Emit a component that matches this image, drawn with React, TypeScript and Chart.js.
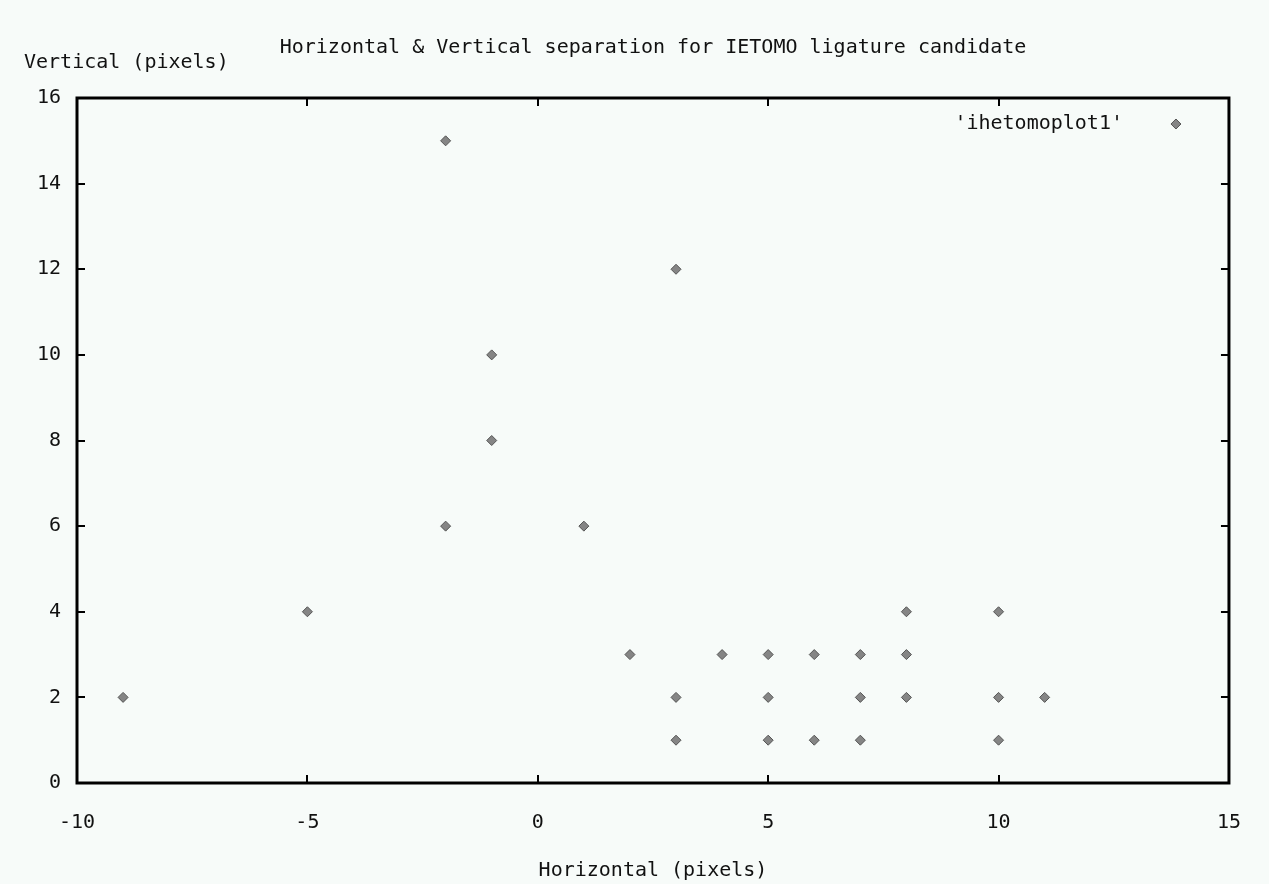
import React, { useEffect, useRef } from "react";
import { Chart, registerables } from "chart.js";

Chart.register(...registerables);

const seriesLabel = "'ihetomoplot1'";
const horizontal = [-9, -5, -2, -2, -1, -1, 1, 2, 3, 3, 3, 4, 5, 5, 5, 6, 6, 7, 7, 7, 8, 8, 8, 10, 10, 10, 11];
const vertical = [2, 4, 15, 6, 10, 8, 6, 3, 12, 2, 1, 3, 3, 2, 1, 3, 1, 3, 2, 1, 4, 3, 2, 4, 2, 1, 2];
const xTicks = [-10, -5, 0, 5, 10, 15];
const yTicks = [0, 2, 4, 6, 8, 10, 12, 14, 16];
const titleText = "Horizontal & Vertical separation for IETOMO ligature candidate";
const xTitle = "Horizontal (pixels)";
const yTitle = "Vertical (pixels)";

const FONT = "DejaVu Sans Mono";
const BG = "#f7fbf9";

const gnuplotPlugin = {
  id: "gnuplotFrame",
  beforeDraw(chart: any) {
    const { ctx, width, height } = chart;
    ctx.save();
    ctx.fillStyle = BG;
    ctx.fillRect(0, 0, width, height);
    ctx.restore();
  },
  afterDatasetsDraw(chart: any) {
    const { ctx, chartArea } = chart;
    const { left, right, top, bottom } = chartArea;
    const xs = chart.scales.x;
    const ys = chart.scales.y;
    ctx.save();
    ctx.strokeStyle = "#000";
    ctx.lineWidth = 2;
    const tl = 8;
    ctx.beginPath();
    for (const v of xTicks) {
      const px = Math.round(xs.getPixelForValue(v));
      ctx.moveTo(px, bottom);
      ctx.lineTo(px, bottom - tl);
      ctx.moveTo(px, top);
      ctx.lineTo(px, top + tl);
    }
    for (const v of yTicks) {
      const py = Math.round(ys.getPixelForValue(v));
      ctx.moveTo(left, py);
      ctx.lineTo(left + tl, py);
      ctx.moveTo(right, py);
      ctx.lineTo(right - tl, py);
    }
    ctx.stroke();
    ctx.lineWidth = 3;
    ctx.strokeRect(left, top, right - left, bottom - top);

    ctx.fillStyle = "#111";
    ctx.font = `20px "${FONT}"`;
    ctx.textBaseline = "middle";
    ctx.textAlign = "center";
    ctx.fillText(titleText, (left + right) / 2, top - 50);
    ctx.fillText(xTitle, (left + right) / 2, bottom + 88);
    ctx.textAlign = "left";
    ctx.fillText(yTitle, 24, top - 35);

    // legend
    const ly = top + 26;
    ctx.textAlign = "right";
    ctx.fillText(chart.data.datasets[0].label, right - 106, ly);
    const mx = right - 53;
    const r = 5;
    ctx.beginPath();
    ctx.moveTo(mx, ly - r);
    ctx.lineTo(mx + r, ly);
    ctx.lineTo(mx, ly + r);
    ctx.lineTo(mx - r, ly);
    ctx.closePath();
    ctx.fillStyle = "#858585";
    ctx.fill();
    ctx.strokeStyle = "#555";
    ctx.lineWidth = 1;
    ctx.stroke();
    ctx.restore();
  },
};

export default function App() {
  const ref = useRef<HTMLCanvasElement | null>(null);
  useEffect(() => {
    document.body.style.margin = "0";
    const canvas = ref.current;
    if (!canvas) return;
    const chart = new Chart(canvas, {
      type: "scatter",
      data: {
        datasets: [
          {
            label: seriesLabel,
            data: horizontal.map((x, i) => ({ x, y: vertical[i] })),
            pointStyle: "rectRot",
            pointRadius: 5,
            pointBackgroundColor: "#858585",
            pointBorderColor: "#555",
            pointBorderWidth: 1,
          },
        ],
      },
      options: {
        animation: false,
        responsive: false,
        devicePixelRatio: 1,
        layout: { padding: { left: 0, right: 40, top: 98, bottom: 0 } },
        plugins: {
          legend: { display: false },
          tooltip: { enabled: false },
          title: { display: false },
        },
        scales: {
          x: {
            type: "linear",
            min: -10,
            max: 15,
            afterFit: (s: any) => {
              s.height = 101;
            },
            afterBuildTicks: (s: any) => {
              s.ticks = xTicks.map((v) => ({ value: v }));
            },
            grid: { display: false, drawTicks: false },
            border: { display: false },
            ticks: {
              padding: 28,
              color: "#111",
              font: { family: FONT, size: 20 },
              maxRotation: 0,
            },
          },
          y: {
            type: "linear",
            min: 0,
            max: 16,
            afterFit: (s: any) => {
              s.width = 77;
            },
            afterBuildTicks: (s: any) => {
              s.ticks = yTicks.map((v) => ({ value: v }));
            },
            grid: { display: false, drawTicks: false },
            border: { display: false },
            ticks: {
              padding: 16,
              color: "#111",
              font: { family: FONT, size: 20 },
            },
          },
        },
      },
      plugins: [gnuplotPlugin],
    });
    return () => chart.destroy();
  }, []);
  return (
    <div style={{ width: 1269, height: 884 }}>
      <canvas ref={ref} width={1269} height={884} style={{ display: "block" }} />
    </div>
  );
}
